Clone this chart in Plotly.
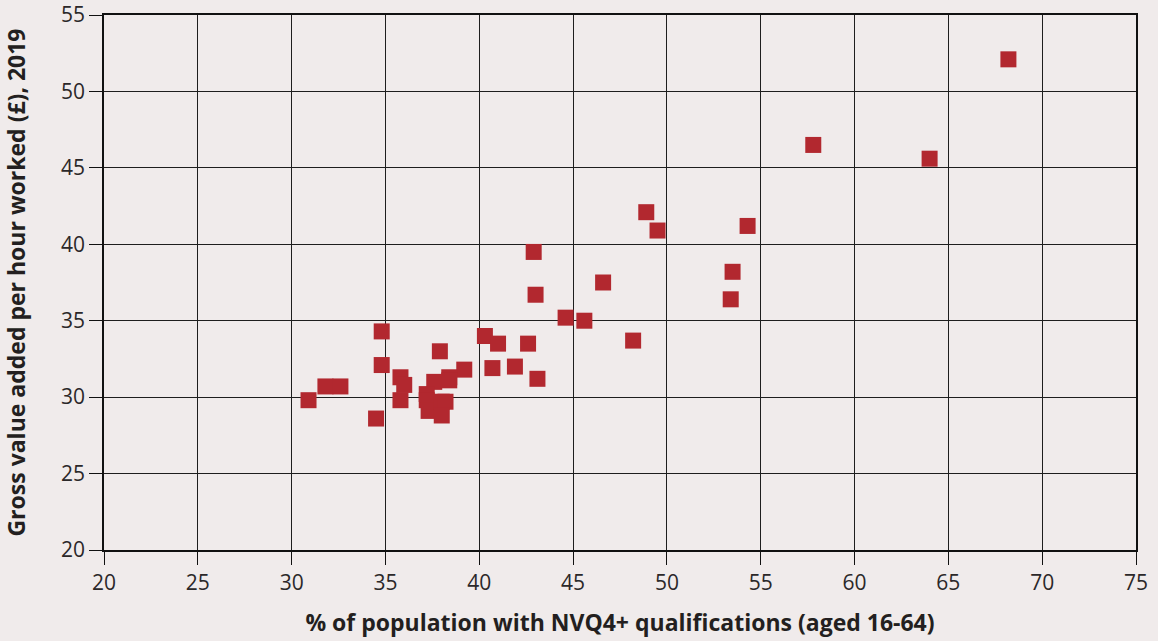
import plotly.graph_objects as go

# % of population with NVQ4+ qualifications (aged 16-64)
nvq4_share = [
    30.9, 31.8, 32.6, 34.5, 34.8, 34.8, 35.8, 36.0, 35.8, 37.9,
    39.2, 37.6, 38.4, 38.4, 37.2, 37.2, 37.3, 38.0, 38.2, 38.0,
    40.3, 41.0, 42.6, 40.7, 41.9, 43.1, 42.9, 43.0, 44.6, 45.6,
    46.6, 48.2, 48.9, 49.5, 53.4, 53.5, 54.3, 57.8, 64.0, 68.2,
]
# Gross value added per hour worked (£), 2019
gva_per_hour = [
    29.8, 30.7, 30.7, 28.6, 34.3, 32.1, 31.3, 30.8, 29.8, 33.0,
    31.8, 31.0, 31.3, 31.1, 30.2, 29.8, 29.1, 29.7, 29.7, 28.8,
    34.0, 33.5, 33.5, 31.9, 32.0, 31.2, 39.5, 36.7, 35.2, 35.0,
    37.5, 33.7, 42.1, 40.9, 36.4, 38.2, 41.2, 46.5, 45.6, 52.1,
]

x_ticks = [20, 25, 30, 35, 40, 45, 50, 55, 60, 65, 70, 75]
y_ticks = [20, 25, 30, 35, 40, 45, 50, 55]

bg = "#f0ebeb"
grid = "#1e1e1e"
font_family = "Open Sans, Noto Sans, sans-serif"

fig = go.Figure(
    go.Scatter(
        x=nvq4_share,
        y=gva_per_hour,
        mode="markers",
        marker=dict(symbol="square", size=16, color="#b2282f", line=dict(width=0)),
        showlegend=False,
    )
)

axis_style = dict(
    showgrid=True,
    gridcolor=grid,
    gridwidth=1,
    showline=True,
    linecolor="#111",
    linewidth=1.5,
    mirror=True,
    ticks="outside",
    ticklen=13,
    tickcolor="#111",
    zeroline=False,
    automargin=False,
    tickfont=dict(size=21, color="#2b2829"),
)

fig.update_layout(
    width=1158,
    height=641,
    paper_bgcolor=bg,
    plot_bgcolor=bg,
    margin=dict(l=104, r=22, t=15, b=91),
    font=dict(family=font_family, color="#231f20", size=23),
    xaxis=dict(
        range=[20, 75],
        tickvals=x_ticks,
        title=dict(
            text="<b>% of population with NVQ4+ qualifications (aged 16-64)</b>",
            font=dict(size=23),
            standoff=20,
        ),
        **axis_style,
    ),
    yaxis=dict(
        range=[20, 55],
        tickvals=y_ticks,
        title=dict(
            text="<b>Gross value added per hour worked (£), 2019</b>",
            font=dict(size=23),
            standoff=29,
        ),
        **axis_style,
    ),
)

fig.write_html(
    "out.html",
    config={"displayModeBar": False},
    post_script="document.body.style.margin='0';document.body.style.background='#f0ebeb';",
)
